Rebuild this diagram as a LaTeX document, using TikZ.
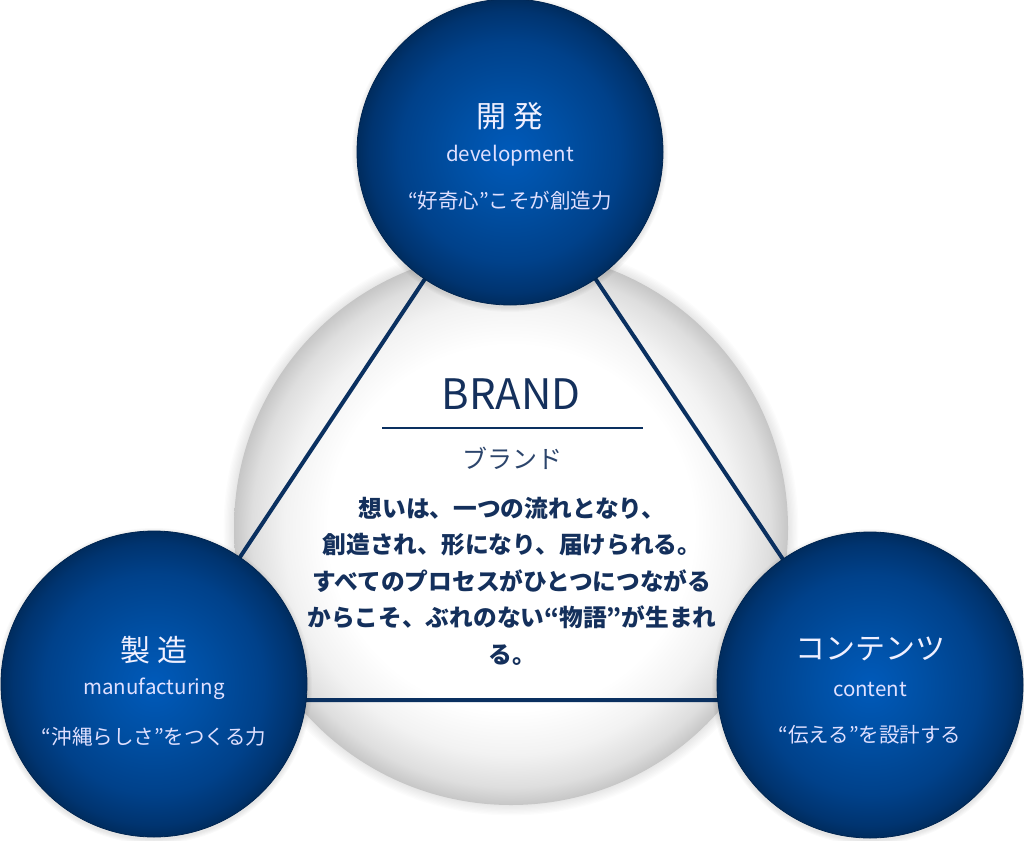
\documentclass[tikz,border=0pt]{standalone}
\usepackage{fontspec}
\setmainfont{Noto Sans CJK JP}
\definecolor{navy}{HTML}{0A3060}
\definecolor{navytext}{HTML}{14305C}
\definecolor{bluec}{HTML}{005ABA}
\definecolor{bluem}{HTML}{004FA3}
\definecolor{bluen}{HTML}{00418A}
\definecolor{bluer}{HTML}{003470}
\definecolor{bluee}{HTML}{002C5E}
\definecolor{edgegray}{HTML}{C6C6C6}
\definecolor{gray2}{HTML}{DEDEDE}
\definecolor{gray1}{HTML}{F2F2F2}
% note: for a shaded path the central 50bp square is fitted to the path, so 25bp = radius
\pgfdeclareradialshading{bluesh}{\pgfpoint{0bp}{0bp}}{color(0bp)=(bluec); color(9bp)=(bluem); color(18bp)=(bluen); color(23bp)=(bluer); color(25bp)=(bluee); color(50bp)=(bluee)}
\pgfdeclareradialshading{spheresh}{\pgfpoint{0bp}{0bp}}{color(0bp)=(white); color(16.5bp)=(white); color(20.5bp)=(gray1); color(23.4bp)=(gray2); color(25bp)=(edgegray); color(50bp)=(edgegray)}
\tikzset{
  bluecircle/.style={shading=bluesh, draw=bluee!85!black, line width=0.8pt},
  tri/.style={draw=navy, line width=4pt},
  titlejp/.style={text=white!94!blue, font=\fontsize{30}{36}\selectfont},
  subtitle/.style={text=white!88!blue, font=\fontsize{20.5}{24}\selectfont},
  tagline/.style={text=white!88!blue, font=\fontsize{20.5}{24}\selectfont},
}
\begin{document}
\begin{tikzpicture}[x=1pt,y=-1pt]
\useasboundingbox (0,0) rectangle (1024,840);
\fill[white] (0,0) rectangle (1024,840);
% centres
\coordinate (sphere) at (511,528);
\coordinate (ctop) at (510,152);
\coordinate (cleft) at (154,684);
\coordinate (cright) at (870,685);
\coordinate (vtop) at (510,151);
\coordinate (vleft) at (145,700);
\coordinate (vright) at (877,700);
% soft shadow of sphere
\foreach \i in {1,...,8}
  \fill[black, opacity=0.012] (sphere) circle[radius=277pt+1.3pt*\i];
% sphere
\shade[shading=spheresh] (sphere) circle[radius=277pt];
% triangle
\draw[tri] (vtop) -- (vleft) -- (vright) -- cycle;
% shadows of blue circles
\foreach \c in {ctop,cleft,cright}{
  \foreach \i in {1,...,5}
    \fill[black, opacity=0.02] (\c) ++(0,2) circle[radius=153pt+1pt*\i];
}
% blue circles
\shade[bluecircle] (ctop) circle[radius=153pt];
\shade[bluecircle] (cleft) circle[radius=153pt];
\shade[bluecircle] (cright) circle[radius=153pt];
% top circle text
\node[titlejp] (t1) at (510,116) {開 発};
\node[subtitle] (t2) at (510,156) {development};
\node[tagline] (t3) at (510,201) {“好奇心”こそが創造力};
% left circle text
\node[titlejp] (l1) at (154,650) {製 造};
\node[subtitle] (l2) at (154,689) {manufacturing};
\node[tagline] (l3) at (154,737) {“沖縄らしさ”をつくる力};
% right circle text
\node[titlejp] (r1) at (870,649) {コンテンツ};
\node[subtitle] (r2) at (870,689) {content};
\node[tagline] (r3) at (870,735) {“伝える”を設計する};
% centre text
\node[text=navytext, font=\fontsize{42}{48}\selectfont] (brand) at (511,394) {BRAND};
\coordinate (ulA) at (382,428);
\coordinate (ulB) at (643,428);
\draw[navy, line width=2pt] (ulA) -- (ulB);
\node[text=navytext!90!white, font=\fontsize{25}{30}\selectfont] (brandjp) at (512,458) {ブランド};
\node[text=navytext, align=center, font=\bfseries\fontsize{23.7}{36.5}\selectfont] (body) at (512,581)
  {想いは、一つの流れとなり、\\創造され、形になり、届けられる。\\すべてのプロセスがひとつにつながる\\からこそ、ぶれのない“物語”が生まれ\\る。};
\end{tikzpicture}
\end{document}
